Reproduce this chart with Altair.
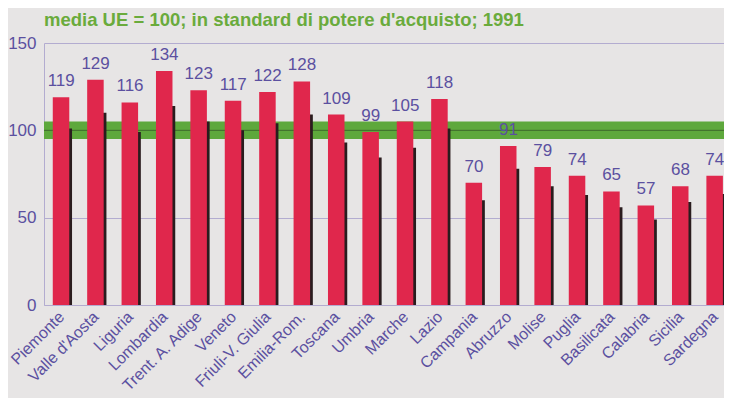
import json
import altair as alt
import pandas as pd

regions = ["Piemonte", "Valle d'Aosta", "Liguria", "Lombardia", "Trent. A. Adige",
           "Veneto", "Friuli-V. Giulia", "Emilia-Rom.", "Toscana", "Umbria",
           "Marche", "Lazio", "Campania", "Abruzzo", "Molise", "Puglia",
           "Basilicata", "Calabria", "Sicilia", "Sardegna"]
values = [119, 129, 116, 134, 123, 117, 122, 128, 109, 99,
          105, 118, 70, 91, 79, 74, 65, 57, 68, 74]
shadow = [101, 110, 99, 114, 105, 100, 104, 109, 93, 84.5,
          90, 101, 60, 78, 68, 63, 56, 49, 59, 63.5]
band_lo = [95]
band_hi = [105]
ref_line = [100]
y_ticks = [0, 50, 100, 150]
title = "media UE = 100; in standard di potere d'acquisto; 1991"

df = pd.DataFrame({"idx": list(range(len(regions))), "regione": regions,
                   "valore": values, "ombra": shadow})
band_df = pd.DataFrame({"lo": band_lo, "hi": band_hi})
ref_df = pd.DataFrame({"v": ref_line})

W, H = 680, 262
PURPLE = "#5b50a0"
AXIS_LINE = "#b3acd0"
FONT = "Liberation Sans"

label_expr = "[" + ",".join(json.dumps(r) for r in regions) + "][datum.value]"

xscale = alt.Scale(domain=[-0.5, 19.267], nice=False, zero=False)
yscale = alt.Scale(domain=[0, 150], nice=False)

xaxis = alt.Axis(values=list(range(len(regions))), labelExpr=label_expr,
                 labelAngle=-45, labelAlign="right", labelBaseline="middle",
                 labelPadding=9, labelColor=PURPLE, labelFont=FONT,
                 labelFontSize=16, ticks=False, grid=False, title=None,
                 domainColor=AXIS_LINE, labelOverlap=False, labelBound=False,
                 labelFlush=False, labelSeparation=0)
yaxis = alt.Axis(values=y_ticks, labelColor=PURPLE, labelFont=FONT, labelFontSize=17,
                 ticks=False, grid=True, gridColor=AXIS_LINE, gridWidth=1,
                 domainColor=AXIS_LINE, labelPadding=8, title=None)

band = alt.Chart(band_df).mark_rect(color="#5ea83c").encode(
    x=alt.value(0), x2=alt.value(W),
    y=alt.Y("lo:Q", scale=yscale, axis=yaxis), y2="hi:Q")

rule = alt.Chart(ref_df).mark_rule(color="#3e6a2c", strokeWidth=1).encode(
    x=alt.value(0), x2=alt.value(W), y=alt.Y("v:Q", scale=yscale))

base = alt.Chart(df).transform_calculate(
    r0="datum.idx - 0.245", r1="datum.idx + 0.235",
    s0="datum.idx - 0.1", s1="datum.idx + 0.315")

shadow_bars = base.mark_rect(color="#2a1c1e", clip=True).encode(
    x=alt.X("s0:Q", scale=xscale, axis=xaxis), x2="s1:Q",
    y=alt.Y("ombra:Q", scale=yscale), y2=alt.datum(0))

red_bars = base.mark_rect(color="#e0274c", clip=True).encode(
    x=alt.X("r0:Q", scale=xscale, axis=xaxis), x2="r1:Q",
    y=alt.Y("valore:Q", scale=yscale), y2=alt.datum(0))

labels = alt.Chart(df).mark_text(color=PURPLE, font=FONT, fontSize=17,
                                 baseline="bottom", dy=-7).encode(
    x=alt.X("idx:Q", scale=xscale, axis=xaxis), y=alt.Y("valore:Q", scale=yscale),
    text="valore:Q")

chart = alt.layer(band, rule, shadow_bars, red_bars, labels).properties(
    width=W, height=H,
    title=alt.TitleParams(title, anchor="start", frame="group", color="#6aab3c",
                          font=FONT, fontSize=18.5, fontWeight="bold", offset=5),
    padding={"left": 36, "top": 35, "right": 0, "bottom": 93},
    autosize=alt.AutoSizeParams(type="none"),
    background="#e7e5e5",
).configure_view(stroke=None).configure_axisX(labelOverlap=False)

chart.save("out.html", embed_options={"renderer": "svg", "actions": False})
